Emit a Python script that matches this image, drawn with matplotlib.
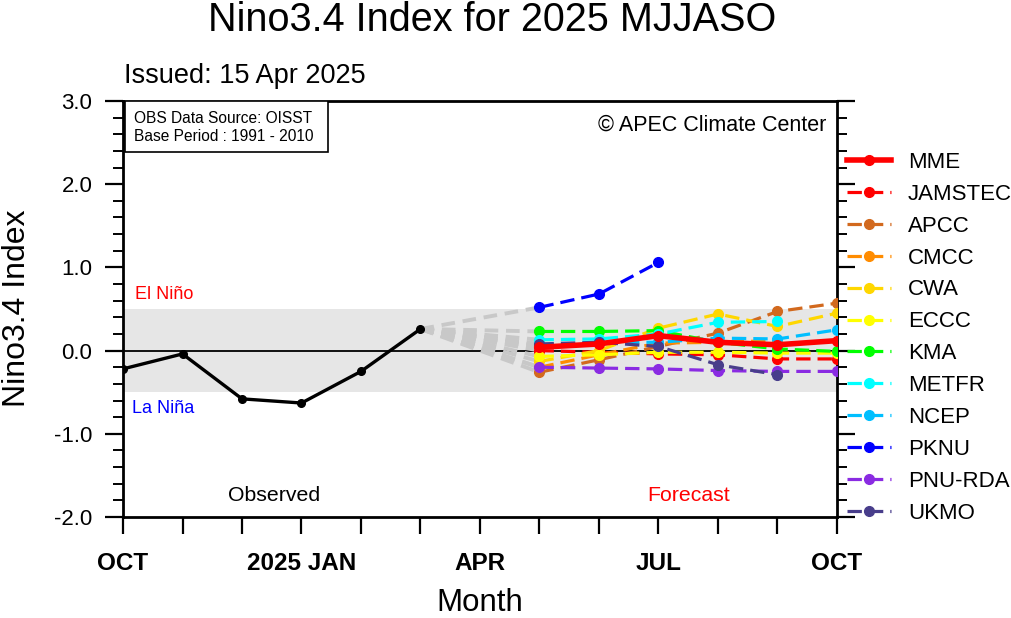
import matplotlib
matplotlib.use("Agg")
import matplotlib.pyplot as plt
from matplotlib.patches import Rectangle

plt.rcParams['font.family'] = ['Liberation Sans', 'DejaVu Sans']

# x positions: 0 = OCT 2024 ... 12 = OCT 2025
obs_months = [0, 1, 2, 3, 4, 5]
obs_values = [-0.22, -0.04, -0.58, -0.63, -0.25, 0.26]

fc_months = [7, 8, 9, 10, 11, 12]  # MAY..OCT 2025

mme      = [0.04, 0.08, 0.18, 0.10, 0.07, 0.12]
jamstec  = [0.00, -0.02, -0.04, -0.05, -0.10, -0.10]
apcc     = [-0.26, -0.11, 0.05, 0.21, 0.47, 0.57]
cmcc     = [-0.20, -0.05, 0.09, 0.10, 0.12]
cwa      = [-0.13, 0.00, 0.27, 0.44, 0.29, 0.45]
eccc     = [-0.07, -0.05, -0.02, -0.02, -0.03, -0.03]
kma      = [0.23, 0.23, 0.24, 0.10, 0.02, -0.01]
metfr    = [0.13, 0.14, 0.20, 0.34, 0.35]
ncep     = [0.06, 0.10, 0.10, 0.15, 0.14, 0.25]
pknu     = [0.52, 0.68, 1.06]
pnu_rda  = [-0.20, -0.21, -0.22, -0.24, -0.25, -0.25]
ukmo     = [0.08, 0.10, 0.05, -0.17, -0.29]

model_names = ['MME', 'JAMSTEC', 'APCC', 'CMCC', 'CWA', 'ECCC', 'KMA',
               'METFR', 'NCEP', 'PKNU', 'PNU-RDA', 'UKMO']
model_series = [mme, jamstec, apcc, cmcc, cwa, eccc, kma, metfr, ncep,
                pknu, pnu_rda, ukmo]
model_colors = ['#ff0000', '#ff0000', '#d2691e', '#ff8c00', '#ffd700',
                '#ffff00', '#00ff00', '#00ffff', '#00bfff', '#0000ff',
                '#8a2be2', '#483d8b']

tick_pos = [0, 3, 6, 9, 12]
tick_labels = ['OCT', '2025 JAN', 'APR', 'JUL', 'OCT']

fig = plt.figure(figsize=(10.11, 6.18), dpi=100)
ax = fig.add_axes([123/1011, 1-517/618, (837-123)/1011, (517-101)/618])

ax.set_xlim(0, 12)
ax.set_ylim(-2.0, 3.0)

# neutral band
ax.axhspan(-0.5, 0.5, color='#e6e6e6', zorder=0, lw=0)
ax.axhline(0, color='black', lw=1.3, zorder=1)

# gray connectors from last obs to first forecast
for vals in model_series:
    ax.plot([obs_months[-1], fc_months[0]], [obs_values[-1], vals[0]],
            color='#c8c8c8', lw=2.8, ls=(0, (3.5, 2)), zorder=2)

# observed
ax.plot(obs_months, obs_values, color='black', lw=2.4, marker='o',
        markersize=5.5, zorder=5)

handles = []
for name, vals, col in zip(model_names, model_series, model_colors):
    xs = fc_months[:len(vals)]
    if name == 'MME':
        h, = ax.plot(xs, vals, color=col, lw=4.0, marker='o', markersize=7,
                     zorder=10, label=name)
    else:
        h, = ax.plot(xs, vals, color=col, lw=2.3, ls=(0, (4.5, 2.2)), marker='o',
                     markersize=7, zorder=4, label=name)
    handles.append(h)

ax.set_xticks(range(0, 13))
ax.set_xticklabels(['' if i not in tick_pos else tick_labels[tick_pos.index(i)]
                    for i in range(13)], fontsize=17.5, fontweight='bold')
ax.set_yticks([-2, -1, 0, 1, 2, 3])
ax.set_yticklabels(['-2.0', '-1.0', '0.0', '1.0', '2.0', '3.0'], fontsize=16)
ax.set_yticks([v / 10 for v in range(-20, 31, 2)], minor=True)
ax.tick_params(axis='x', which='major', direction='out', length=12, width=1.6,
               pad=13, top=False)
ax.tick_params(axis='y', which='major', direction='out', length=13, width=1.6,
               right=True, pad=9)
ax.tick_params(axis='y', which='minor', direction='out', length=7, width=1.4,
               right=True)
for s in ax.spines.values():
    s.set_linewidth(2)

fig.text(480/1011, 1-603/618, 'Month', fontsize=22.5, ha='center', va='center')
fig.text(17/1011, 1-308/618, 'Nino3.4 Index', fontsize=23, rotation=90,
         ha='center', va='center')

fig.text(492/1011, 1-20/618, 'Nino3.4 Index for 2025 MJJASO', fontsize=28.5,
         ha='center', va='center')
fig.text(124/1011, 1-76/618, 'Issued: 15 Apr 2025', fontsize=19.5,
         ha='left', va='center')

ax.text(0.2, 0.68, 'El Niño', color='red', fontsize=13, ha='left', va='center')
ax.text(0.15, -0.70, 'La Niña', color='blue', fontsize=13, ha='left', va='center')
ax.text(2.54, -1.74, 'Observed', color='black', fontsize=15.3, ha='center', va='center')
ax.text(9.5, -1.74, 'Forecast', color='red', fontsize=15.3, ha='center', va='center')
ax.text(11.82, 2.71, '© APEC Climate Center', fontsize=15.5, ha='right', va='center')

# info box
ax.add_patch(Rectangle((125/1011, 1-152/618), (328-125)/1011, (152-101)/618,
                       transform=fig.transFigure, fc='white', ec='black',
                       lw=1.2, zorder=20))
fig.text(134/1011, 1-118/618, 'OBS Data Source: OISST', fontsize=11.2,
         ha='left', va='center', zorder=21)
fig.text(134/1011, 1-136/618, 'Base Period : 1991 - 2010', fontsize=11.2,
         ha='left', va='center', zorder=21)

fig.legend(handles=handles, loc='upper left',
           bbox_to_anchor=(838/1011, 1-143/618), frameon=False, fontsize=16,
           labelspacing=0.49, handlelength=2.0, handletextpad=0.75,
           borderaxespad=0)

fig.savefig('out.png', dpi=100)
